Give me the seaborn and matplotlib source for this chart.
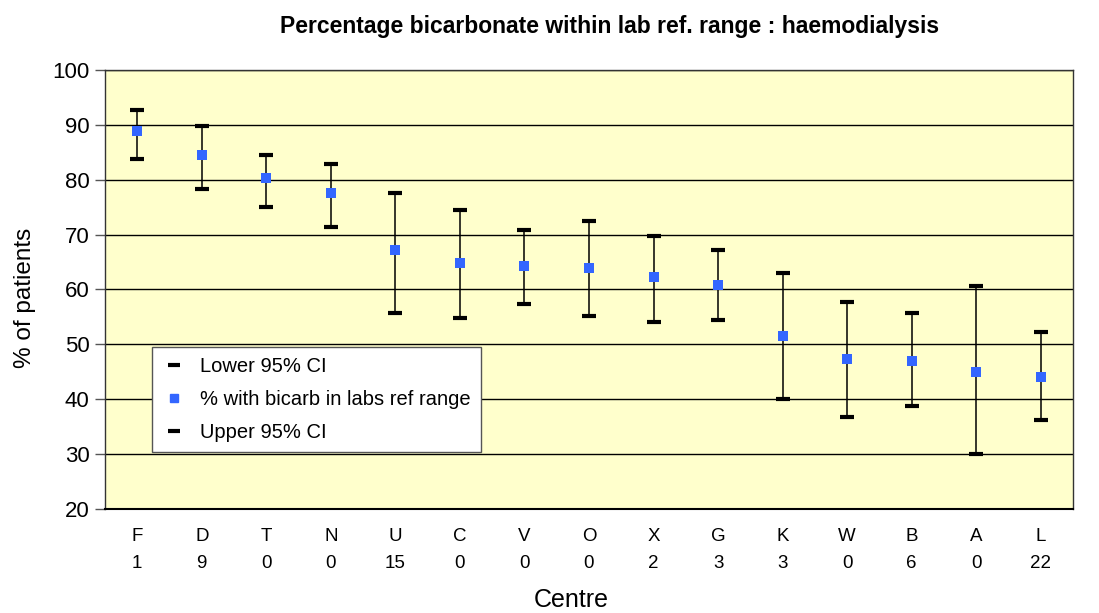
import numpy as np
import pandas as pd
import seaborn as sns
import matplotlib.pyplot as plt
from matplotlib.lines import Line2D

# data
centres = ['F', 'D', 'T', 'N', 'U', 'C', 'V', 'O', 'X', 'G', 'K', 'W', 'B', 'A', 'L']
counts = ['1', '9', '0', '0', '15', '0', '0', '0', '2', '3', '3', '0', '6', '0', '22']
pct_in_range = [88.8, 84.5, 80.3, 77.6, 67.2, 64.9, 64.2, 63.9, 62.3, 60.9, 51.5, 47.3, 46.9, 45.0, 44.0]
lower_ci = [83.8, 78.3, 75.0, 71.4, 55.8, 54.8, 57.4, 55.1, 54.1, 54.4, 40.0, 36.8, 38.8, 30.0, 36.2]
upper_ci = [92.7, 89.8, 84.5, 82.9, 77.6, 74.4, 70.8, 72.4, 69.8, 67.2, 63.0, 57.7, 55.8, 60.7, 52.2]

df = pd.DataFrame({'pos': np.arange(len(centres)), 'centre': centres,
                   'pct': pct_in_range, 'lower': lower_ci, 'upper': upper_ci})

sns.set_theme(style='white')
plt.rcParams['font.family'] = ['Liberation Sans', 'DejaVu Sans']
plt.rcParams.update({'text.color': 'black', 'axes.labelcolor': 'black',
                     'xtick.color': 'black', 'ytick.color': 'black'})

W, H = 1099, 613
fig = plt.figure(figsize=(W / 100, H / 100), dpi=100)
ax = fig.add_axes([105 / W, 1 - 509 / H, (1073 - 105) / W, (509 - 70) / H])
ax.set_facecolor('#FFFFCC')

# high-low lines
ax.vlines(df['pos'], df['lower'], df['upper'], color='black', lw=1.1, zorder=2)
# CI caps
sns.scatterplot(data=df, x='pos', y='lower', marker='_', s=100, color='black',
                linewidth=3, ax=ax, zorder=3, legend=False)
sns.scatterplot(data=df, x='pos', y='upper', marker='_', s=100, color='black',
                linewidth=3, ax=ax, zorder=3, legend=False)
# percentage points
sns.scatterplot(data=df, x='pos', y='pct', marker='s', s=45, color='#3366FF',
                edgecolor='#3366FF', linewidth=0, ax=ax, zorder=4, legend=False)

ax.set_ylim(20, 100)
ax.set_xlim(-0.5, len(centres) - 0.5)
ax.set_yticks(range(20, 101, 10))
ax.yaxis.grid(True, color='black', lw=1)
ax.set_axisbelow(True)

ax.set_xticks(df['pos'])
ax.set_xticklabels([c + '\n' + n for c, n in zip(centres, counts)], fontsize=13.5, linespacing=1.75)
ax.set_xticks(np.arange(-0.5, len(centres), 1), minor=True)
ax.tick_params(axis='x', which='major', length=0, pad=14)
ax.tick_params(axis='x', which='minor', length=8, direction='inout', color='black', width=0.8)
ax.tick_params(axis='y', length=7, direction='out', color='#555555', width=1, labelsize=16,
               left=True, pad=4)

for s in ax.spines.values():
    s.set_color('#333333')
    s.set_linewidth(1)
ax.spines['bottom'].set_color('black')
ax.spines['bottom'].set_linewidth(1.5)

ax.set_xlabel('Centre', fontsize=18)
ax.xaxis.set_label_coords((571 - 105) / 968, -(600 - 509) / 439)
ax.xaxis.label.set_va('center')
ax.set_ylabel('% of patients', fontsize=17.5)
ax.yaxis.set_label_coords(-(105 - 25) / 968, (509 - 298) / 439)
ax.yaxis.label.set_va('center')
fig.text(610 / W, 1 - 27 / H, 'Percentage bicarbonate within lab ref. range : haemodialysis',
         fontsize=16.5, fontweight='bold', ha='center', va='center')

handles = [
    Line2D([], [], ls='none', marker='_', color='black', markersize=8, markeredgewidth=3),
    Line2D([], [], ls='none', marker='s', color='#3366FF', markersize=5.5),
    Line2D([], [], ls='none', marker='_', color='black', markersize=8, markeredgewidth=3),
]
labels = ['Lower 95% CI', '% with bicarb in labs ref range', 'Upper 95% CI']
leg = ax.legend(handles, labels, loc='upper left', bbox_to_anchor=(47 / 968, (509 - 347) / 439),
                frameon=True, fancybox=False, fontsize=14.5, handlelength=1.2,
                borderpad=0.5, labelspacing=0.7, handletextpad=0.7, borderaxespad=0)
leg.get_frame().set_edgecolor('#555555')
leg.get_frame().set_facecolor('white')
leg.get_frame().set_linewidth(1)
leg.get_frame().set_alpha(1)

fig.savefig('out.png', dpi=100)
